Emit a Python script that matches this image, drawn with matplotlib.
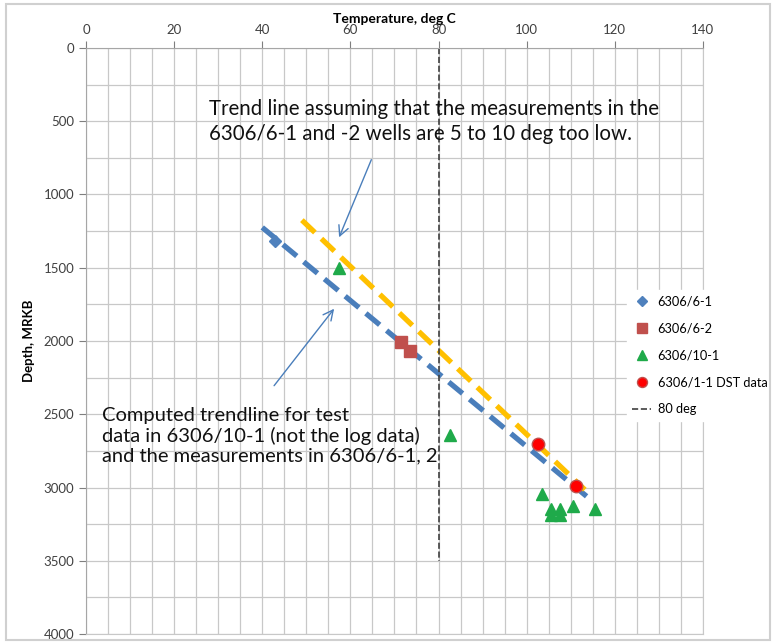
import matplotlib.pyplot as plt
from matplotlib.patches import Rectangle

plt.rcParams['font.family'] = ['Lato', 'DejaVu Sans']

# Measured temperatures (deg C) and depths (m RKB)
w61_temp = [43]
w61_depth = [1320]
w62_temp = [71.5, 73.5]
w62_depth = [2005, 2070]
w101_temp = [57.5, 82.5, 103.5, 105.5, 105.5, 107.5, 107.5, 110.5, 115.5]
w101_depth = [1500, 2645, 3045, 3150, 3190, 3150, 3190, 3125, 3145]
dst_temp = [102.5, 111.3]
dst_depth = [2705, 2990]

# Trend lines (end points)
blue_trend_temp = [40, 113.6]
blue_trend_depth = [1225, 3060]
orange_trend_temp = [49, 113.2]
orange_trend_depth = [1175, 3015]

# 80 deg reference line
ref_temp = [80, 80]
ref_depth = [0, 3500]

fig = plt.figure(figsize=(7.76, 6.44), dpi=100)
ax = fig.add_axes([0.1108, 0.0155, 0.795, 0.91])

grid_col = '#c8c8c8'
ax.set_xlim(0, 140)
ax.set_ylim(4000, 0)
ax.set_xticks(range(0, 141, 20))
ax.set_xticks(range(0, 141, 5), minor=True)
ax.set_yticks(range(0, 4001, 500))
ax.set_yticks(range(0, 4001, 250), minor=True)
ax.grid(True, which='both', color=grid_col, linewidth=0.9)
ax.set_axisbelow(True)
ax.xaxis.tick_top()
ax.xaxis.set_label_position('top')
ax.tick_params(which='major', colors='#7f7f7f', labelcolor='#404040', labelsize=9.5, length=5)
ax.tick_params(which='minor', length=0)
for s in ['left', 'top']:
    ax.spines[s].set_color('#a6a6a6')
for s in ['right', 'bottom']:
    ax.spines[s].set_color(grid_col)
ax.set_xlabel('Temperature, deg C', fontsize=10, fontweight='bold', labelpad=1)
ax.set_ylabel('Depth, MRKB', fontsize=9.5, fontweight='bold', labelpad=6)

# trend lines
ax.plot(blue_trend_temp, blue_trend_depth, color='#4a7ebb', linewidth=3.8, dashes=(3.4, 1.7))
ax.plot(orange_trend_temp, orange_trend_depth, color='#ffc000', linewidth=3.8, dashes=(3.4, 1.7))

ax.plot(w61_temp, w61_depth, 'D', color='#4f81bd', markersize=6, linestyle='none', label='6306/6-1')
ax.plot(w62_temp, w62_depth, 's', color='#c0504d', markersize=9, linestyle='none', label='6306/6-2')
ax.plot(w101_temp, w101_depth, '^', color='#1faa4a', markersize=9, linestyle='none', label='6306/10-1')
ax.plot(dst_temp, dst_depth, 'o', color='#ff0000', markeredgecolor='#c0504d', markersize=9,
        linestyle='none', label='6306/1-1 DST data')
ax.plot(ref_temp, ref_depth, color='#404040', linewidth=1.2, linestyle='--', label='80 deg')

# annotations
ax.text(28, 502, 'Trend line assuming that the measurements in the\n6306/6-1 and -2 wells are 5 to 10 deg too low.',
        fontsize=14.8, va='center', ha='left', linespacing=1.35, color='#111111')
ax.annotate('', xy=(57.2, 1310), xytext=(65, 745),
            arrowprops=dict(arrowstyle='->', color='#4a7ebb', lw=1, mutation_scale=18))
ax.text(3.6, 2648, 'Computed trendline for test\ndata in 6306/10-1 (not the log data)\nand the measurements in 6306/6-1, 2',
        fontsize=14.5, va='center', ha='left', linespacing=1.2, color='#111111')
ax.annotate('', xy=(56.7, 1765), xytext=(42.3, 2320),
            arrowprops=dict(arrowstyle='->', color='#4a7ebb', lw=1, mutation_scale=18))

leg = ax.legend(loc='upper left', bbox_to_anchor=(0.877, 0.587), frameon=True, framealpha=1,
                edgecolor='white', fontsize=9.2, handlelength=1.5, labelspacing=1.18,
                borderpad=0.4, handletextpad=0.5, borderaxespad=0, markerscale=0.8)

# chart border
fig.patches.append(Rectangle((0.008, 0.006), 0.984, 0.988, transform=fig.transFigure,
                             fill=False, edgecolor='#d0d0d0', linewidth=1.5))

fig.savefig('out.png', dpi=100)
